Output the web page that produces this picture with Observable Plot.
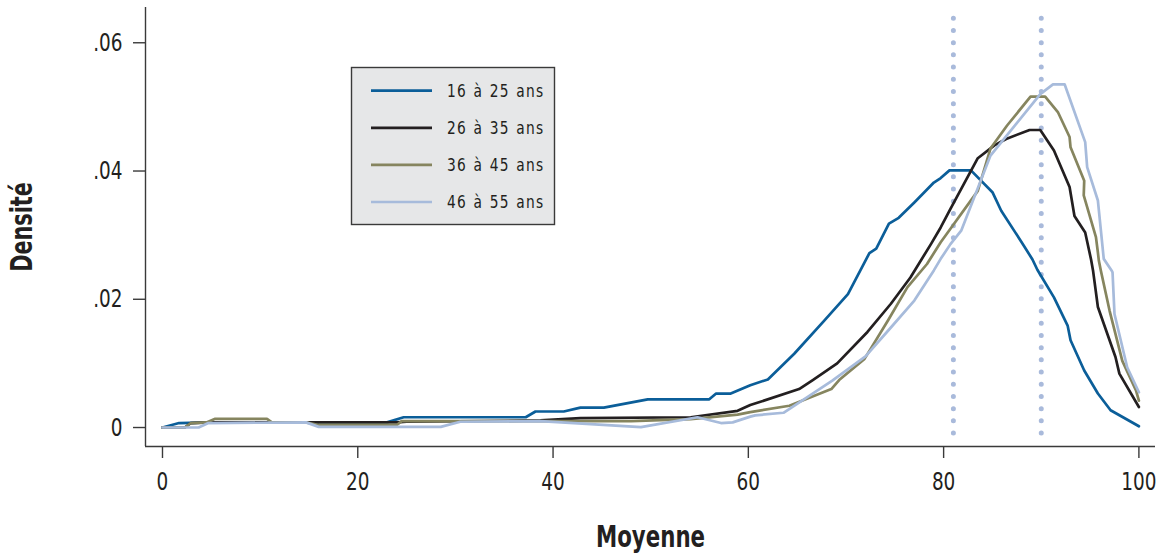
<!DOCTYPE html>
<html>
<head>
<meta charset="utf-8">
<script src="https://cdn.jsdelivr.net/npm/d3@7"></script>
<script src="https://cdn.jsdelivr.net/npm/@observablehq/plot@0.6"></script>
<style>
  html, body { margin: 0; padding: 0; background: #fff; }
  #chart { position: relative; width: 1160px; height: 554px; }
</style>
</head>
<body>
<div id="chart"></div>
<script>
// ---- Data ----
const seriesNames = ["16 à 25 ans", "26 à 35 ans", "36 à 45 ans", "46 à 55 ans"];
const seriesColors = ["#0b5e99", "#231f20", "#86855f", "#a7bbdb"];

const x16 = [0, 1.7, 5, 23.0, 24.7, 37.2, 38.2, 41.1, 42.8, 45.2, 49.7, 56.0, 56.7, 58.2, 60.2, 62.0, 64.7, 67.8, 70.2, 72.4, 73.1, 74.4, 75.4, 77.0, 79.0, 79.7, 80.6, 82.8, 85.0, 85.9, 88.2, 89.1, 89.6, 91.3, 92.7, 93.0, 94.4, 95.8, 97.1, 100];
const y16 = [0, 0.0007, 0.0008, 0.0008, 0.0016, 0.0016, 0.0025, 0.0025, 0.0031, 0.0031, 0.0044, 0.0044, 0.0053, 0.0053, 0.0066, 0.0075, 0.0115, 0.0167, 0.0208, 0.0272, 0.0279, 0.0318, 0.0327, 0.0351, 0.0382, 0.0389, 0.0401, 0.0401, 0.0367, 0.0338, 0.0284, 0.0262, 0.0246, 0.0203, 0.0159, 0.0136, 0.0089, 0.0053, 0.0027, 0.0002];

const x26 = [0, 2.3, 2.9, 5, 24, 25, 38.7, 42.8, 54.1, 58.9, 60.2, 65.2, 66.6, 69.1, 72.2, 74.6, 76.6, 78.7, 79.7, 80.7, 83.5, 85.2, 86.4, 88.8, 89.9, 91.3, 92.9, 93.4, 94.5, 95.1, 95.3, 95.8, 97.6, 98.0, 100];
const y26 = [0, 0, 0.0007, 0.0008, 0.0008, 0.0009, 0.0011, 0.00145, 0.0016, 0.0026, 0.0035, 0.0060, 0.0074, 0.0100, 0.0149, 0.0193, 0.0234, 0.0286, 0.0312, 0.0341, 0.0420, 0.0440, 0.0450, 0.0464, 0.0464, 0.0432, 0.0375, 0.0330, 0.0304, 0.0262, 0.0245, 0.0188, 0.0110, 0.0084, 0.0032];

const x36 = [0, 2.3, 2.9, 4.5, 5.4, 10.7, 11.2, 14.7, 16.0, 24.0, 24.5, 48.0, 54.1, 58.9, 60.2, 64.2, 68.5, 69.3, 71.9, 74.3, 76.3, 78.3, 79.7, 80.7, 83.5, 84.8, 86.5, 88.9, 90.4, 91.7, 92.9, 93.0, 94.4, 94.35, 95.6, 95.8, 95.9, 96.1, 97.0, 98.3, 99.7, 100];
const y36 = [0, 0, 0.0007, 0.0008, 0.00135, 0.00135, 0.0008, 0.0008, 0.0004, 0.0004, 0.0010, 0.0010, 0.0013, 0.0020, 0.0024, 0.0034, 0.0060, 0.0074, 0.0107, 0.0167, 0.0219, 0.0255, 0.0289, 0.0310, 0.0369, 0.0435, 0.0471, 0.0516, 0.0516, 0.0492, 0.0453, 0.0437, 0.0385, 0.0362, 0.0297, 0.0273, 0.0260, 0.0245, 0.0182, 0.0104, 0.0058, 0.0042];

const x46 = [0, 3.7, 4.7, 14.7, 16.0, 28.5, 30.5, 38.7, 49.0, 54.8, 57.2, 58.4, 60.2, 60.7, 63.6, 68.6, 72.0, 74.6, 77.0, 79.0, 79.7, 80.7, 81.8, 84.8, 89.9, 91.2, 92.4, 94.5, 94.7, 95.8, 96.4, 97.2, 97.3, 97.5, 98.8, 100];
const y46 = [0, 0, 0.0007, 0.0008, 0.0001, 0.0001, 0.0009, 0.0010, 0.00005, 0.0016, 0.0007, 0.0008, 0.0017, 0.0019, 0.0023, 0.0073, 0.0111, 0.0156, 0.0198, 0.0245, 0.0263, 0.0286, 0.0307, 0.0424, 0.0520, 0.0535, 0.0535, 0.0445, 0.0406, 0.0354, 0.0263, 0.0245, 0.0242, 0.0177, 0.0094, 0.0055];

const xTicks = [0, 20, 40, 60, 80, 100];
const xTickLabels = ["0", "20", "40", "60", "80", "100"];
const yTicks = [0, 0.02, 0.04, 0.06];
const yTickLabels = ["0", ".02", ".04", ".06"];
const refLines = [81, 90];
const xTitle = "Moyenne";
const yTitle = "Densité";

// ---- Build table ----
const xsAll = [x16, x26, x36, x46];
const ysAll = [y16, y26, y36, y46];
const rows = [];
seriesNames.forEach((name, i) => {
  xsAll[i].forEach((x, j) => rows.push({series: name, order: i, x, y: ysAll[i][j]}));
});

const xDomain = [-1.74, 101.7];
const yDomain = [-0.00296, 0.0655];
const refRange = [-0.00094, 0.0651];
const refColor = "#a9badb";
const axisColor = "#3a3a3a";
const fontStack = '"DejaVu Sans Condensed", "DejaVu Sans", sans-serif';

const plot = Plot.plot({
  width: 1160,
  height: 554,
  marginLeft: 145,
  marginRight: 5,
  marginTop: 7,
  marginBottom: 108,
  style: {fontFamily: fontStack, fontSize: "25px", color: "#231f20", background: "#fff"},
  x: {domain: xDomain},
  y: {domain: yDomain},
  color: {domain: seriesNames, range: seriesColors},
  marks: [
    Plot.ruleX(refLines, {y1: refRange[0], y2: refRange[1], stroke: refColor, strokeWidth: 5, strokeDasharray: "0 12.2", strokeLinecap: "round"}),
    ...seriesNames.map((name) =>
      Plot.line(rows.filter(d => d.series === name), {x: "x", y: "y", stroke: "series", strokeWidth: 2.7})
    ),
    Plot.ruleX([xDomain[0]], {stroke: axisColor, strokeWidth: 1.4}),
    Plot.ruleY([yDomain[0]], {stroke: axisColor, strokeWidth: 1.4}),
    Plot.axisY({ticks: yTicks, tickSize: 12, tickPadding: 11, tickFormat: (d) => yTickLabels[yTicks.indexOf(d)], stroke: axisColor, strokeWidth: 1.4, label: null, fontSize: 25}),
    Plot.axisX({ticks: xTicks, tickSize: 12, tickPadding: 14, tickFormat: (d) => xTickLabels[xTicks.indexOf(d)], stroke: axisColor, strokeWidth: 1.4, label: null, fontSize: 25}),
    Plot.text([yTitle], {frameAnchor: "left", dx: -123, rotate: -90, textAnchor: "middle", fontSize: 30, fontWeight: "bold", fill: "#231f20", lineAnchor: "middle"}),
    Plot.text([xTitle], {frameAnchor: "bottom", dy: 91, textAnchor: "middle", fontSize: 30, fontWeight: "bold", fill: "#231f20", lineAnchor: "middle"})
  ]
});

document.getElementById("chart").appendChild(plot);
const svg = d3.select(plot);

// dotted reference lines: make sure they are round dots
svg.selectAll('g[aria-label="rule"]')
  .filter(function () { return (this.getAttribute("stroke") || "").toLowerCase() === refColor; })
  .attr("stroke-dasharray", "0 12.2")
  .attr("stroke-linecap", "round")
  .selectAll("line")
  .attr("stroke-dasharray", "0 12.2")
  .attr("stroke-linecap", "round");

// condense text horizontally (reference uses a condensed face)
function condense(sel, s) {
  sel.each(function () {
    const t = d3.select(this);
    const x = +t.attr("x") || 0, y = +t.attr("y") || 0;
    const tr = t.attr("transform") || "";
    t.attr("transform", `${tr} translate(${x},${y}) scale(${s},1) translate(${-x},${-y})`);
  });
}
condense(svg.selectAll('g[aria-label="y-axis tick label"] text, g[aria-label="x-axis tick label"] text'), 0.82);
svg.selectAll('g[aria-label="text"] text').each(function () {
  const txt = this.textContent;
  if (txt === yTitle) condense(d3.select(this), 0.77);
  else if (txt === xTitle) condense(d3.select(this), 0.79);
});

// ---- Legend inside the plot area ----
const lg = svg.append("g").attr("class", "legend");
lg.append("rect")
  .attr("x", 351.5).attr("y", 67.5).attr("width", 203).attr("height", 157)
  .attr("fill", "#e6e7e8").attr("stroke", "#3a3a3a").attr("stroke-width", 1.4);
seriesNames.forEach((name, i) => {
  const yy = 90.7 + i * 37.1;
  lg.append("line").attr("x1", 371).attr("x2", 432).attr("y1", yy).attr("y2", yy)
    .attr("stroke", seriesColors[i]).attr("stroke-width", 2.7);
  const t = lg.append("text").attr("x", 447).attr("y", yy).attr("dy", "0.36em")
    .attr("text-anchor", "start")
    .attr("font-size", 18).attr("fill", "#231f20")
    .attr("letter-spacing", "1.5px").attr("word-spacing", "1px")
    .text(name);
  condense(t, 0.85);
});
</script>
</body>
</html>
